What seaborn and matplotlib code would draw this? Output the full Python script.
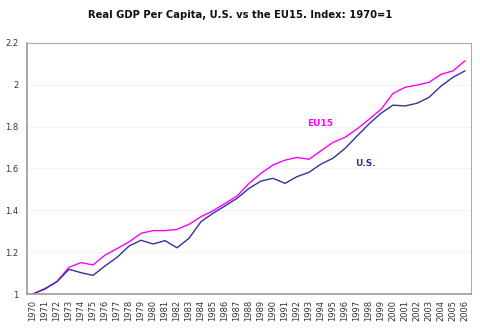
import matplotlib
matplotlib.use("Agg")
import matplotlib.pyplot as plt
import seaborn as sns
import pandas as pd

years = [str(y) for y in range(1970, 2007)]
us = [1.000, 1.024, 1.059, 1.118, 1.102, 1.089, 1.134, 1.175, 1.229, 1.257,
      1.239, 1.255, 1.221, 1.266, 1.346, 1.386, 1.421, 1.457, 1.505, 1.540,
      1.553, 1.529, 1.561, 1.582, 1.621, 1.649, 1.696, 1.755, 1.813, 1.864,
      1.903, 1.899, 1.912, 1.940, 1.994, 2.036, 2.067]
eu15 = [1.000, 1.026, 1.060, 1.128, 1.150, 1.139, 1.186, 1.217, 1.249, 1.290,
        1.303, 1.303, 1.309, 1.333, 1.370, 1.398, 1.433, 1.468, 1.529, 1.577,
        1.617, 1.640, 1.653, 1.644, 1.685, 1.725, 1.749, 1.789, 1.835, 1.883,
        1.959, 1.988, 1.999, 2.012, 2.050, 2.067, 2.115]
yticks = [1, 1.2, 1.4, 1.6, 1.8, 2, 2.2]
ytick_labels = ["1", "1.2", "1.4", "1.6", "1.8", "2", "2.2"]
title = "Real GDP Per Capita, U.S. vs the EU15. Index: 1970=1"

sns.set_theme(style="white")
plt.rcParams['font.family'] = ['DejaVu Sans']

df = pd.DataFrame({
    "pos": list(range(len(years))) * 2,
    "value": us + eu15,
    "series": ["U.S."] * len(years) + ["EU15"] * len(years),
})

fig = plt.figure(figsize=(4.8, 3.28), dpi=100)
ax = fig.add_axes([27/480, 1 - 294/328, (471 - 27)/480, (294 - 43)/328])

sns.lineplot(data=df, x="pos", y="value", hue="series",
             palette={"U.S.": "#333399", "EU15": "#FF00FF"},
             hue_order=["EU15", "U.S."], linewidth=1.0, legend=False, ax=ax)

ax.set_xlim(-0.5, len(years) - 0.5)
ax.set_ylim(1, 2.2)
ax.set_yticks(yticks)
ax.set_yticklabels(ytick_labels, fontsize=6, color="#333333")
ax.set_xticks(range(len(years)))
ax.set_xticklabels(years, rotation=90, fontsize=6, color="#333333")
ax.set_xlabel("")
ax.set_ylabel("")
ax.grid(axis="y", color="#f0f0f0", linewidth=0.6)
ax.tick_params(axis="x", length=2, width=0.6, color="#999999", pad=2)
ax.tick_params(axis="y", length=0, pad=6)
for side in ["top", "right"]:
    ax.spines[side].set_color("#aaaaaa")
    ax.spines[side].set_linewidth(0.8)
for side in ["left", "bottom"]:
    ax.spines[side].set_color("#999999")
    ax.spines[side].set_linewidth(1.2)

ax.text(0.63, 0.68, "EU15", transform=ax.transAxes, fontsize=6.5,
        fontweight="bold", color="#FF00FF", ha="left", va="center")
ax.text(0.74, 0.52, "U.S.", transform=ax.transAxes, fontsize=6.5,
        fontweight="bold", color="#333399", ha="left", va="center")

fig.text(0.5, 1 - 15/328, title, ha="center", va="center",
         fontsize=7.2, fontweight="bold", color="#111111")

fig.savefig("out.png", dpi=100, facecolor="white")
